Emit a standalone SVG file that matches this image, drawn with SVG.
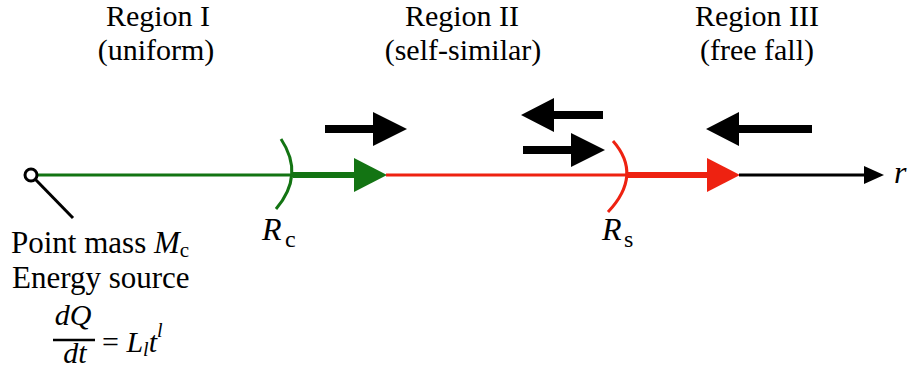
<svg xmlns="http://www.w3.org/2000/svg" width="908" height="378" viewBox="0 0 908 378">
<rect width="908" height="378" fill="#fff"/>
<g id="labels-top">
<text font-family="Liberation Serif" font-size="30" x="158" y="26" text-anchor="middle">Region I</text>
<text font-family="Liberation Serif" font-size="30" x="156" y="60" text-anchor="middle">(uniform)</text>
<text font-family="Liberation Serif" font-size="30" x="462" y="26" text-anchor="middle">Region II</text>
<text font-family="Liberation Serif" font-size="30" x="463" y="60" text-anchor="middle">(self-similar)</text>
<text font-family="Liberation Serif" font-size="30" x="757" y="26" text-anchor="middle">Region III</text>
<text font-family="Liberation Serif" font-size="30" x="757" y="60" text-anchor="middle">(free fall)</text>
</g>
<g id="connectors">
<line x1="37" y1="175" x2="295" y2="175" stroke="#137413" stroke-width="3"/>
<line x1="293" y1="175" x2="356" y2="175" stroke="#137413" stroke-width="6"/>
<polygon points="354,158 387,175 354,192" fill="#137413"/>
<line x1="386" y1="175" x2="628" y2="175" stroke="#ee2211" stroke-width="3"/>
<line x1="626" y1="175" x2="709" y2="175" stroke="#ee2211" stroke-width="6"/>
<polygon points="707,158 740,175 707,192" fill="#ee2211"/>
<line x1="739" y1="175" x2="866" y2="175" stroke="#000" stroke-width="3"/>
<polygon points="864,166 884,175 864,184" fill="#000"/>
<line x1="35" y1="179" x2="73" y2="218" stroke="#000" stroke-width="3"/>
</g>
<g id="point-mass">
<circle cx="31" cy="175" r="6" fill="#fff" stroke="#000" stroke-width="3"/>
<text font-family="Liberation Serif" font-size="31" x="11" y="253">Point mass <tspan font-style="italic">M</tspan><tspan font-size="21" dy="4">c</tspan></text>
<text font-family="Liberation Serif" font-size="31" x="12" y="288">Energy source</text>
<text font-family="Liberation Serif" font-size="30" font-style="italic" x="73" y="325" text-anchor="middle">dQ</text>
<line x1="53" y1="340" x2="95" y2="340" stroke="#000" stroke-width="2.5"/>
<text font-family="Liberation Serif" font-size="30" font-style="italic" x="75" y="363" text-anchor="middle">dt</text>
<text font-family="Liberation Serif" font-size="30" x="102" y="352">= <tspan font-style="italic">L</tspan><tspan font-style="italic" font-size="20" dy="4">l</tspan><tspan font-style="italic" dy="-4">t</tspan><tspan font-style="italic" font-size="20" dy="-15">l</tspan></text>
</g>
<g id="Rc">
<path d="M281,139 Q305,175 276,209" fill="none" stroke="#137413" stroke-width="3"/>
<text font-family="Liberation Serif" font-style="italic" x="262" y="240" font-size="32">R</text>
<text font-family="Liberation Serif" x="285" y="247" font-size="24">c</text>
</g>
<g id="Rs">
<path d="M613,141 Q643,175 608,212" fill="none" stroke="#ee2211" stroke-width="3"/>
<text font-family="Liberation Serif" font-style="italic" x="602" y="240" font-size="32">R</text>
<text font-family="Liberation Serif" x="624" y="247" font-size="24">s</text>
</g>
<g id="flow-arrows" fill="#000">
<polygon points="325,125 373,125 373,112 407,129 373,146 373,133 325,133"/>
<polygon points="603,111 554,111 554,98 521,115 554,132 554,119 603,119"/>
<polygon points="523,146 571,146 571,133 605,150 571,167 571,154 523,154"/>
<polygon points="812,125 739,125 739,112 706,129 739,146 739,133 812,133"/>
</g>
<text font-family="Liberation Serif" font-style="italic" x="894" y="183" font-size="32">r</text>
</svg>
